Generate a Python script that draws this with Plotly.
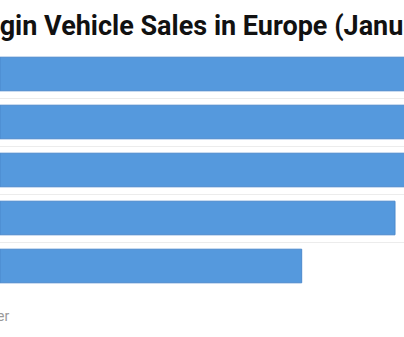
import plotly.graph_objects as go

# Data (visible portion of the chart; top bars extend beyond the crop)
countries = ["Norway", "Germany", "United Kingdom", "France", "Sweden"]
sales = [5200, 4700, 4300, 3911, 2987]
title_text = "Plugin Vehicle Sales in Europe (January 2018)"
source_text = "Source: EV Volumes / Insider"

positions = list(range(len(countries)))

fig = go.Figure()
fig.add_trace(go.Bar(
    x=sales,
    y=positions,
    orientation="h",
    width=0.70,
    marker=dict(color="#5599dd", line=dict(color="#4a88cc", width=1)),
    hovertext=countries,
    hoverinfo="text+x",
))

fig.update_layout(
    width=404,
    height=337,
    margin=dict(l=0, r=0, t=50, b=47),
    paper_bgcolor="#ffffff",
    plot_bgcolor="#ffffff",
    showlegend=False,
    xaxis=dict(range=[0, 4000], showgrid=False, zeroline=False,
               showticklabels=False, ticks=""),
    yaxis=dict(range=[4.5, -0.5], tickvals=[-0.5, 0.5, 1.5, 2.5, 3.5, 4.5],
               showgrid=True, gridcolor="#ececec", gridwidth=1,
               zeroline=False, showticklabels=False, ticks=""),
    annotations=[
        dict(text="<b>" + title_text + "</b>", xref="paper", yref="paper",
             x=0, y=1, xanchor="left", yanchor="middle", xshift=-42, yshift=24,
             showarrow=False, font=dict(family="Roboto", size=27, color="#111111")),
        dict(text=source_text, xref="paper", yref="paper",
             x=0, y=0, xanchor="right", yanchor="middle", xshift=11, yshift=-26,
             showarrow=False, font=dict(family="Roboto", size=14, color="#999999")),
    ],
)

fig.write_html("out.html")
